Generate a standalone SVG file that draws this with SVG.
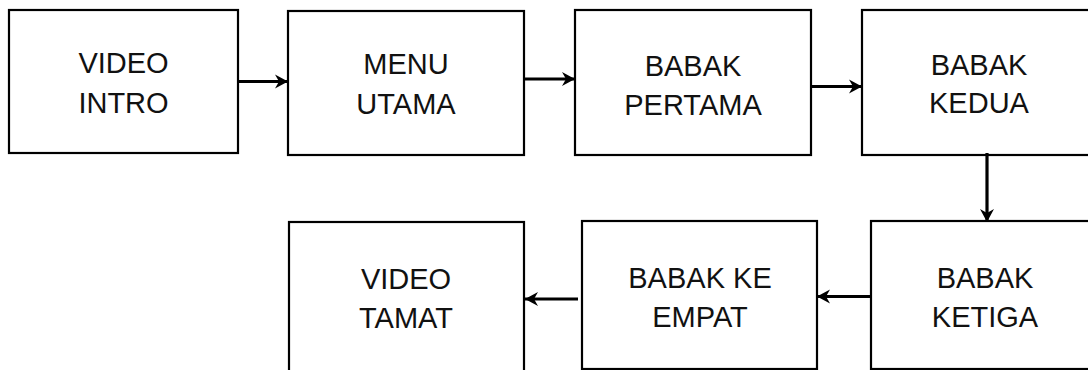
<svg xmlns="http://www.w3.org/2000/svg" width="1088" height="370" viewBox="0 0 1088 370">
<style>
.box{fill:#fff;stroke:#000;stroke-width:2.2}
.lbl{font-family:"Liberation Sans",Arial,sans-serif;font-size:29px;fill:#111;text-anchor:middle}
.conn{stroke:#000;stroke-width:3.2;fill:none}
</style>
<defs>
<marker id="ah" markerUnits="userSpaceOnUse" markerWidth="16" markerHeight="16" refX="14" refY="8" orient="auto">
<path d="M1,1 L14,8 L1,15 L5,8 Z" fill="#000"/>
</marker>
</defs>
<rect width="1088" height="370" fill="#fff"/>
<g id="n1"><rect class="box" x="9" y="10" width="229" height="143"/><text class="lbl" x="123.5" y="73">VIDEO</text><text class="lbl" x="123.5" y="113">INTRO</text></g>
<g id="n2"><rect class="box" x="288" y="11" width="236" height="144"/><text class="lbl" x="406" y="74">MENU</text><text class="lbl" x="406" y="114">UTAMA</text></g>
<g id="n3"><rect class="box" x="575" y="10" width="236" height="145"/><text class="lbl" x="693" y="76">BABAK</text><text class="lbl" x="693" y="115">PERTAMA</text></g>
<g id="n4"><rect class="box" x="862" y="10" width="240" height="145"/><text class="lbl" x="979" y="75">BABAK</text><text class="lbl" x="979" y="113">KEDUA</text></g>
<g id="n5"><rect class="box" x="871" y="221" width="240" height="148"/><text class="lbl" x="985" y="288">BABAK</text><text class="lbl" x="985" y="327">KETIGA</text></g>
<g id="n6"><rect class="box" x="582" y="221" width="235" height="148"/><text class="lbl" x="700" y="288">BABAK KE</text><text class="lbl" x="700" y="327">EMPAT</text></g>
<g id="n7"><rect class="box" x="289" y="222" width="235" height="160"/><text class="lbl" x="406" y="289">VIDEO</text><text class="lbl" x="406" y="328">TAMAT</text></g>
<g id="connectors">
<line class="conn" x1="238" y1="81.5" x2="288" y2="81.5" marker-end="url(#ah)"/>
<line class="conn" x1="524" y1="79" x2="575" y2="79" marker-end="url(#ah)"/>
<line class="conn" x1="811" y1="86.5" x2="862" y2="86.5" marker-end="url(#ah)"/>
<line class="conn" x1="987" y1="153" x2="987" y2="222" marker-end="url(#ah)"/>
<line class="conn" x1="871" y1="296.5" x2="817" y2="296.5" marker-end="url(#ah)"/>
<line class="conn" x1="578" y1="299" x2="525" y2="299" marker-end="url(#ah)"/>
</g>
</svg>
